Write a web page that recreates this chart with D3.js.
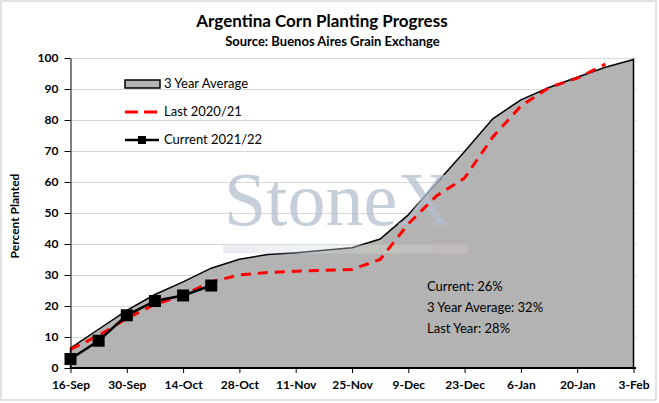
<!DOCTYPE html>
<html>
<head>
<meta charset="utf-8">
<script src="https://cdnjs.cloudflare.com/ajax/libs/d3/7.8.5/d3.min.js"></script>
<style>
  body { margin: 0; background: #fff; }
  svg { display: block; }
  text { font-family: Lato, "Open Sans", sans-serif; fill: #000; }
</style>
</head>
<body>
<svg id="chart" width="659" height="403"></svg>
<script>
// weekly report dates, 2021/22 season
var weeks = ["16-Sep","23-Sep","30-Sep","7-Oct","14-Oct","21-Oct","28-Oct","4-Nov","11-Nov","18-Nov",
  "25-Nov","2-Dec","9-Dec","16-Dec","23-Dec","30-Dec","6-Jan","13-Jan","20-Jan","27-Jan","3-Feb"];
var avg3yr = [6.4,12.5,18.6,23.7,27.8,32.2,35.1,36.6,37.2,38.0,38.8,41.6,49.4,59.6,69.8,80.4,86.5,90.5,93.8,97.0,99.5];
var last2021 = [6.0,10.5,16.0,20.5,23.5,27.8,30.0,30.8,31.2,31.5,31.8,35.0,46.5,55.5,61.3,74.5,84.5,90.5,93.5,98.0];
var current2122 = [2.9,8.8,17.0,21.6,23.4,26.6];
var xTickLabels = ["16-Sep","30-Sep","14-Oct","28-Oct","11-Nov","25-Nov","9-Dec","23-Dec","6-Jan","20-Jan","3-Feb"];
var yTicks = [0,10,20,30,40,50,60,70,80,90,100];
var legendNames = ["3 Year Average","Last 2020/21","Current 2021/22"];
var notes = ["Current: 26%","3 Year Average: 32%","Last Year: 28%"];

var parseDay = d3.timeParse("%d-%b-%Y");
function toDate(s) {
  var m = s.split("-")[1];
  var yr = (m == "Jan" || m == "Feb") ? "2022" : "2021";
  return parseDay(s + "-" + yr);
}

var svg = d3.select("#chart");

// outer frame
svg.append("rect").attr("x", 1).attr("y", 1).attr("width", 655).attr("height", 399)
  .attr("fill", "#fff").attr("stroke", "#d9d9d9").attr("stroke-width", 1.5);

var x = d3.scaleTime().domain([toDate("16-Sep"), toDate("3-Feb")]).range([70.5, 633.5]);
var y = d3.scaleLinear().domain([0, 100]).range([368, 58]);

// titles
svg.append("text").attr("x", 322).attr("y", 27).attr("text-anchor", "middle")
  .style("font-size", "17px").style("font-weight", "bold")
  .text("Argentina Corn Planting Progress");
svg.append("text").attr("x", 332.5).attr("y", 46).attr("text-anchor", "middle")
  .style("font-size", "13px").style("font-weight", "bold")
  .text("Source: Buenos Aires Grain Exchange");

// gridlines
svg.append("g").selectAll("line").data(yTicks.slice(1)).join("line")
  .attr("x1", 70).attr("x2", 636)
  .attr("y1", d => y(d) + 0.5).attr("y2", d => y(d) + 0.5)
  .attr("stroke", "#d9d9d9").attr("stroke-width", 1);

// 3 year average area
var avgData = weeks.map((w, i) => ({ date: toDate(w), v: avg3yr[i] }));
var area = d3.area().x(d => x(d.date)).y0(y(0)).y1(d => y(d.v));
svg.append("path").datum(avgData).attr("d", area)
  .attr("fill", "#b3b3b3").attr("stroke", "#000").attr("stroke-width", 1.5);

// StoneX watermark
var wm = svg.append("g").attr("opacity", 0.75);
wm.append("text").attr("x", 224).attr("y", 225)
  .style("font-family", "'Liberation Serif', 'DejaVu Serif', serif").style("font-size", "76px")
  .style("fill", "rgb(180,192,205)").text("StoneX");
wm.append("text").attr("x", 466).attr("y", 187)
  .style("font-family", "'Liberation Serif', serif").style("font-size", "9px")
  .style("fill", "rgb(180,192,205)").text("™");
var barColors = ["#c9d3dd","#d3dde6","#d6e3ec","#d5dfd4","#dedbd0","#d9d6cf","#dcc9cc"];
wm.selectAll("rect.bar").data(barColors).join("rect").attr("class", "bar")
  .attr("x", (d, i) => 223 + i * 35).attr("y", 244.5).attr("width", 35).attr("height", 9)
  .attr("fill", d => d).attr("opacity", 0.5);

// last year, dashed red
var lastData = last2021.map((v, i) => ({ date: toDate(weeks[i]), v: v }));
var line = d3.line().x(d => x(d.date)).y(d => y(d.v));
svg.append("path").datum(lastData).attr("d", line)
  .attr("fill", "none").attr("stroke", "#ff0000").attr("stroke-width", 3)
  .attr("stroke-dasharray", "10,7");

// current season
var curData = current2122.map((v, i) => ({ date: toDate(weeks[i]), v: v }));
svg.append("path").datum(curData).attr("d", line)
  .attr("fill", "none").attr("stroke", "#000").attr("stroke-width", 2.5);
svg.append("g").selectAll("rect").data(curData).join("rect")
  .attr("x", d => x(d.date) - 6).attr("y", d => y(d.v) - 6)
  .attr("width", 12).attr("height", 12).attr("fill", "#000");

// axes
var yAxis = svg.append("g").attr("transform", "translate(70.5,0)")
  .call(d3.axisLeft(y).tickValues(yTicks).tickSize(6).tickSizeOuter(0).tickPadding(6));
yAxis.selectAll("text").style("font-size", "12px").style("font-weight", "bold");
yAxis.selectAll("line,path").attr("stroke", "#000");

var xAxis = svg.append("g").attr("transform", "translate(0,368)")
  .call(d3.axisBottom(x).tickValues(xTickLabels.map(toDate)).tickFormat((d, i) => xTickLabels[i])
    .tickSize(5).tickSizeOuter(0));
xAxis.select(".domain").attr("stroke", "#000").attr("stroke-width", 2)
  .attr("d", "M70,0H636");
xAxis.selectAll("line").attr("stroke", "#000");
xAxis.selectAll("text").attr("y", 12.5).style("font-size", "12px").style("font-weight", "bold");

// y axis title
svg.append("text").attr("transform", "translate(19,216) rotate(-90)").attr("text-anchor", "middle")
  .style("font-size", "12px").style("font-weight", "bold").text("Percent Planted");

// legend
var lg = svg.append("g");
lg.append("rect").attr("x", 125).attr("y", 80).attr("width", 35).attr("height", 8)
  .attr("fill", "#b3b3b3").attr("stroke", "#000").attr("stroke-width", 1.5);
lg.append("line").attr("x1", 125).attr("x2", 158).attr("y1", 112).attr("y2", 112)
  .attr("stroke", "#ff0000").attr("stroke-width", 3).attr("stroke-dasharray", "13,6");
lg.append("line").attr("x1", 125).attr("x2", 159).attr("y1", 140).attr("y2", 140)
  .attr("stroke", "#000").attr("stroke-width", 2.5);
lg.append("rect").attr("x", 138).attr("y", 136).attr("width", 8).attr("height", 8).attr("fill", "#000");
lg.selectAll("text").data(legendNames).join("text")
  .attr("x", 164).attr("y", (d, i) => 88 + i * 28)
  .style("font-size", "13px").text(d => d);

// summary notes
svg.append("g").selectAll("text").data(notes).join("text")
  .attr("x", 427).attr("y", (d, i) => 291 + i * 21)
  .style("font-size", "13px").text(d => d);
</script>
</body>
</html>
